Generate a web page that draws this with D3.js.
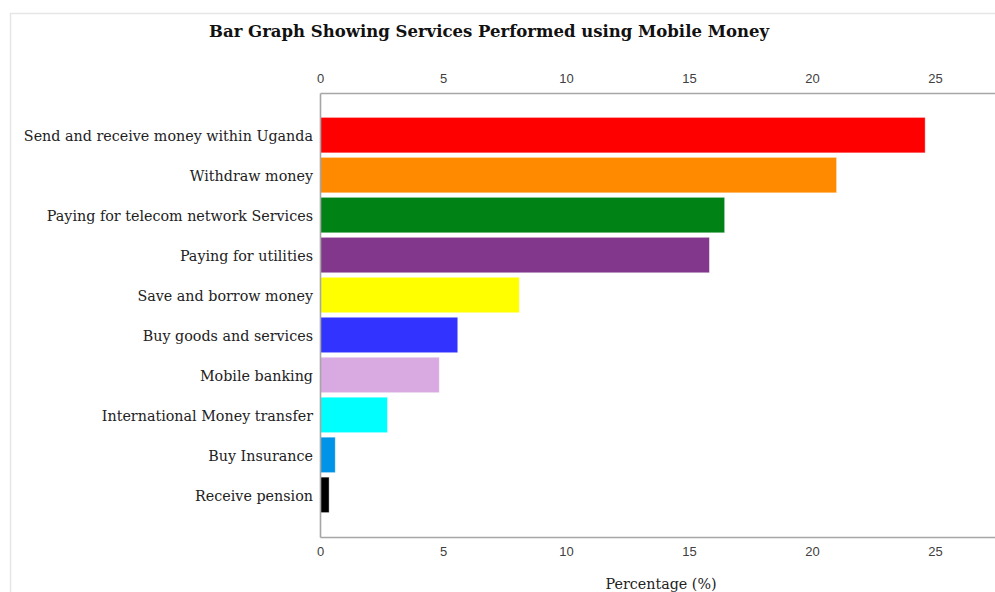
<!DOCTYPE html>
<html><head><meta charset="utf-8">
<script src="https://cdn.jsdelivr.net/npm/d3@7"></script>
<style>body{margin:0;background:#fff}svg{display:block}</style>
</head><body>
<svg id="c" width="995" height="592"></svg>
<script>
const categories = ["Send and receive money within Uganda","Withdraw money","Paying for telecom network Services","Paying for utilities","Save and borrow money","Buy goods and services","Mobile banking","International Money transfer","Buy Insurance","Receive pension"];
const values = [24.6, 21.0, 16.45, 15.83, 8.1, 5.6, 4.85, 2.74, 0.62, 0.37];
const colors = ["#ff0000","#ff8a00","#008214","#82368c","#ffff00","#3333ff","#d9aae2","#00ffff","#0094e8","#000000"];
const tickVals = [0,5,10,15,20,25];

const svg = d3.select("#c");
svg.append("rect").attr("x",10.5).attr("y",13.5).attr("width",1100).attr("height",700)
  .attr("fill","none").attr("stroke","#e6e6e6").attr("stroke-width",1.5);

const x = d3.scaleLinear().domain([0,30]).range([320, 320+24.6*30]);
const y = d3.scaleBand().domain(categories).range([93,537]).paddingInner(0.1125).paddingOuter(0.61);

svg.append("text").attr("x",489).attr("y",37).attr("text-anchor","middle")
  .attr("font-family","DejaVu Serif").attr("font-weight","bold").attr("font-size",16.5)
  .attr("fill","#111").text("Bar Graph Showing Services Performed using Mobile Money");

svg.append("g").selectAll("rect").data(values).join("rect")
  .attr("x",x(0)).attr("y",(d,i)=>y(categories[i])).attr("width",d=>x(d)-x(0))
  .attr("height",y.bandwidth()).attr("fill",(d,i)=>colors[i])
  .attr("stroke","#fff").attr("stroke-opacity",0.5).attr("stroke-width",0.8);

const axTop = d3.axisTop(x).tickValues(tickVals).tickSize(0).tickPadding(10);
const axBot = d3.axisBottom(x).tickValues(tickVals).tickSize(0).tickPadding(10);
const gt = svg.append("g").attr("transform","translate(0,93)").call(axTop);
const gb = svg.append("g").attr("transform","translate(0,537)").call(axBot);
[gt,gb].forEach(g=>{
  g.select(".domain").attr("stroke","#a6a6a6").attr("stroke-width",1.6);
  g.selectAll("text").attr("font-family","Liberation Sans").attr("font-size",13).attr("fill","#404040");
});
const gl = svg.append("g").attr("transform","translate(320,0)").call(d3.axisLeft(y).tickSize(0).tickPadding(7));
gl.select(".domain").attr("stroke","#a6a6a6").attr("stroke-width",1.6);
gl.selectAll("text").attr("font-family","DejaVu Serif").attr("font-size",14.3).attr("dy","0.42em").attr("fill","#222");

svg.append("text").attr("x",661).attr("y",589).attr("text-anchor","middle")
  .attr("font-family","DejaVu Serif").attr("font-size",14.3).attr("fill","#222").text("Percentage (%)");
</script>
</body></html>
